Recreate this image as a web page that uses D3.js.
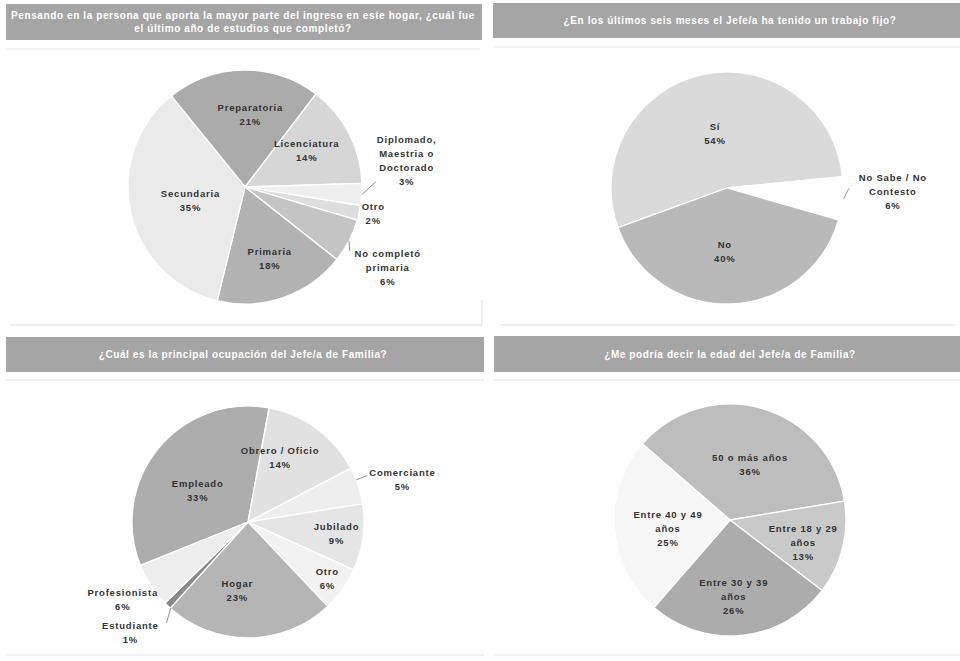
<!DOCTYPE html>
<html><head><meta charset="utf-8">
<script src="https://cdn.jsdelivr.net/npm/d3@7"></script>
<style>
html,body{margin:0;padding:0;background:#fff;}
svg{display:block;}
</style></head>
<body>
<svg id="c" width="960" height="661"></svg>
<script>
// ---------- DATA ----------
const titles = [
  ["Pensando en la persona que aporta la mayor parte del ingreso en este hogar, ¿cuál fue", "el último año de estudios que completó?"],
  ["¿En los últimos seis meses el Jefe/a ha tenido un trabajo fijo?"],
  ["¿Cuál es la principal ocupación del Jefe/a de Familia?"],
  ["¿Me podría decir la edad del Jefe/a de Familia?"]
];

const educCats = ["Preparatoria", "Licenciatura", "Diplomado,\nMaestria o\nDoctorado", "Otro", "No completó\nprimaria", "Primaria", "Secundaria"];
const educVals = [21, 14, 3, 2, 6, 18, 35];

const trabCats = ["Sí", "No Sabe / No\nContesto", "No"];
const trabVals = [54, 6, 40];

const ocupCats = ["Empleado", "Obrero / Oficio", "Comerciante", "Jubilado", "Otro", "Hogar", "Estudiante", "Profesionista"];
const ocupVals = [33, 14, 5, 9, 6, 23, 1, 6];

const edadCats = ["50 o más años", "Entre 18 y 29\naños", "Entre 30 y 39\naños", "Entre 40 y 49\naños"];
const edadVals = [36, 13, 26, 25];

// ---------- LAYOUT / STYLE ----------
const deg = Math.PI / 180;
const charts = [
  { cats: educCats, vals: educVals, cx: 245, cy: 187, r: 117, start: -39,
    colors: ["#ababab", "#d6d6d6", "#efefef", "#dedede", "#c4c4c4", "#b2b2b2", "#eaeaea"],
    lab: [[0.62, 5], [0.61, -3], [1.40, -13], [1.12, -1], [1.40, 2], [0.65, 0], [0.48, -1]],
    lead: [null, null, [1.0, 0, 1.12, -6], null, [1.0, 0, 1.05, 4], null, null] },
  { cats: trabCats, vals: trabVals, cx: 727, cy: 188, r: 116, start: -110,
    colors: ["#dadada", "#ffffff", "#b9b9b9"],
    lab: [[0.48, 0.3], [1.43, -4], [0.55, 4]],
    lead: [null, [1.01, 0, 1.05, -5], null] },
  { cats: ocupCats, vals: ocupVals, cx: 248, cy: 522, r: 116, start: -112,
    colors: ["#adadad", "#e1e1e1", "#eeeeee", "#e5e5e5", "#f2f2f2", "#b5b5b5", "#8a8a8a", "#ededed"],
    lab: [[0.51, -7.5], [0.62, -10], [1.38, 3], [0.77, 0], [0.84, 0], [0.60, 9.5], [1.39, 3], [1.27, 1.4]],
    lead: [null, null, [1.0, -3, 1.1, -3], null, null, null, [1.0, -2, 1.12, -5], null] },
  { cats: edadCats, vals: edadVals, cx: 730, cy: 520, r: 116, start: -49,
    colors: ["#bdbdbd", "#c9c9c9", "#acacac", "#f6f6f6"],
    lab: [[0.51, 4], [0.66, 3], [0.66, 3], [0.54, -4]],
    lead: [null, null, null, null] }
];

const bars = [
  { x: 6, y: 4, w: 476, h: 36 },
  { x: 493, y: 3, w: 470, h: 35 },
  { x: 6, y: 337, w: 478, h: 35 },
  { x: 494, y: 336, w: 470, h: 36 }
];

const svg = d3.select("#c");

// faint panel rules
const rules = [
  [6, 49, 480, 49], [494, 47, 960, 47],
  [10, 325, 482, 325], [482, 300, 482, 325], [500, 325, 955, 325],
  [6, 380, 484, 380], [494, 380, 960, 380],
  [6, 655, 484, 655], [494, 655, 960, 655]
];
svg.selectAll("line.rule").data(rules).join("line")
  .attr("class", "rule")
  .attr("x1", d => d[0]).attr("y1", d => d[1]).attr("x2", d => d[2]).attr("y2", d => d[3])
  .attr("stroke", "#e2e2e2").attr("stroke-width", 1);

// title bars
bars.forEach((b, i) => {
  const g = svg.append("g");
  g.append("rect").attr("x", b.x).attr("y", b.y).attr("width", b.w).attr("height", b.h)
    .attr("fill", "#a5a5a5");
  const lines = titles[i];
  const cxm = i % 2 === 0 ? 243 : 730;
  const mid = b.y + b.h / 2;
  const lh = 13;
  lines.forEach((t, j) => {
    g.append("text")
      .attr("x", cxm)
      .attr("y", mid + (j - (lines.length - 1) / 2) * lh)
      .attr("dy", "0.35em")
      .attr("text-anchor", "middle")
      .attr("font-family", "Liberation Sans, Arial, sans-serif")
      .attr("font-weight", "bold")
      .attr("font-size", "10px")
      .attr("letter-spacing", "0.6px")
      .attr("fill", "#ffffff")
      .text(t);
  });
});

// pies
charts.forEach(c => {
  const pie = d3.pie().sort(null).value(d => d)
    .startAngle(c.start * deg).endAngle(c.start * deg + 2 * Math.PI);
  const arcs = pie(c.vals);
  const arc = d3.arc().innerRadius(0).outerRadius(c.r);
  const g = svg.append("g").attr("transform", `translate(${c.cx},${c.cy})`);
  g.selectAll("path").data(arcs).join("path")
    .attr("d", arc)
    .attr("fill", (d, i) => c.colors[i])
    .attr("stroke", "#ffffff")
    .attr("stroke-width", 1.3)
    .attr("stroke-linejoin", "round");

  const polar = (a, rr) => [Math.sin(a) * rr, -Math.cos(a) * rr];

  arcs.forEach((d, i) => {
    const mid = (d.startAngle + d.endAngle) / 2;
    const L = c.lead[i];
    if (L) {
      const p1 = polar(mid + L[1] * deg, c.r * L[0]);
      const p2 = polar(mid + L[3] * deg, c.r * L[2]);
      g.append("line").attr("x1", p1[0]).attr("y1", p1[1]).attr("x2", p2[0]).attr("y2", p2[1])
        .attr("stroke", "#777").attr("stroke-width", 0.8);
    }
    const [k, da] = c.lab[i];
    const p = polar(mid + da * deg, c.r * k);
    const lines = c.cats[i].split("\n").concat([d3.format(".0f")(c.vals[i]) + "%"]);
    const lh = 14;
    const t = g.append("text")
      .attr("text-anchor", "middle")
      .attr("font-family", "Liberation Sans, Arial, sans-serif")
      .attr("font-weight", "bold")
      .attr("font-size", "9.5px")
      .attr("letter-spacing", "0.8px")
      .attr("fill", "#333333");
    lines.forEach((s, j) => {
      t.append("tspan")
        .attr("x", p[0])
        .attr("y", p[1] + (j - (lines.length - 1) / 2) * lh)
        .attr("dy", "0.35em")
        .text(s);
    });
  });
});
</script>
</body></html>
